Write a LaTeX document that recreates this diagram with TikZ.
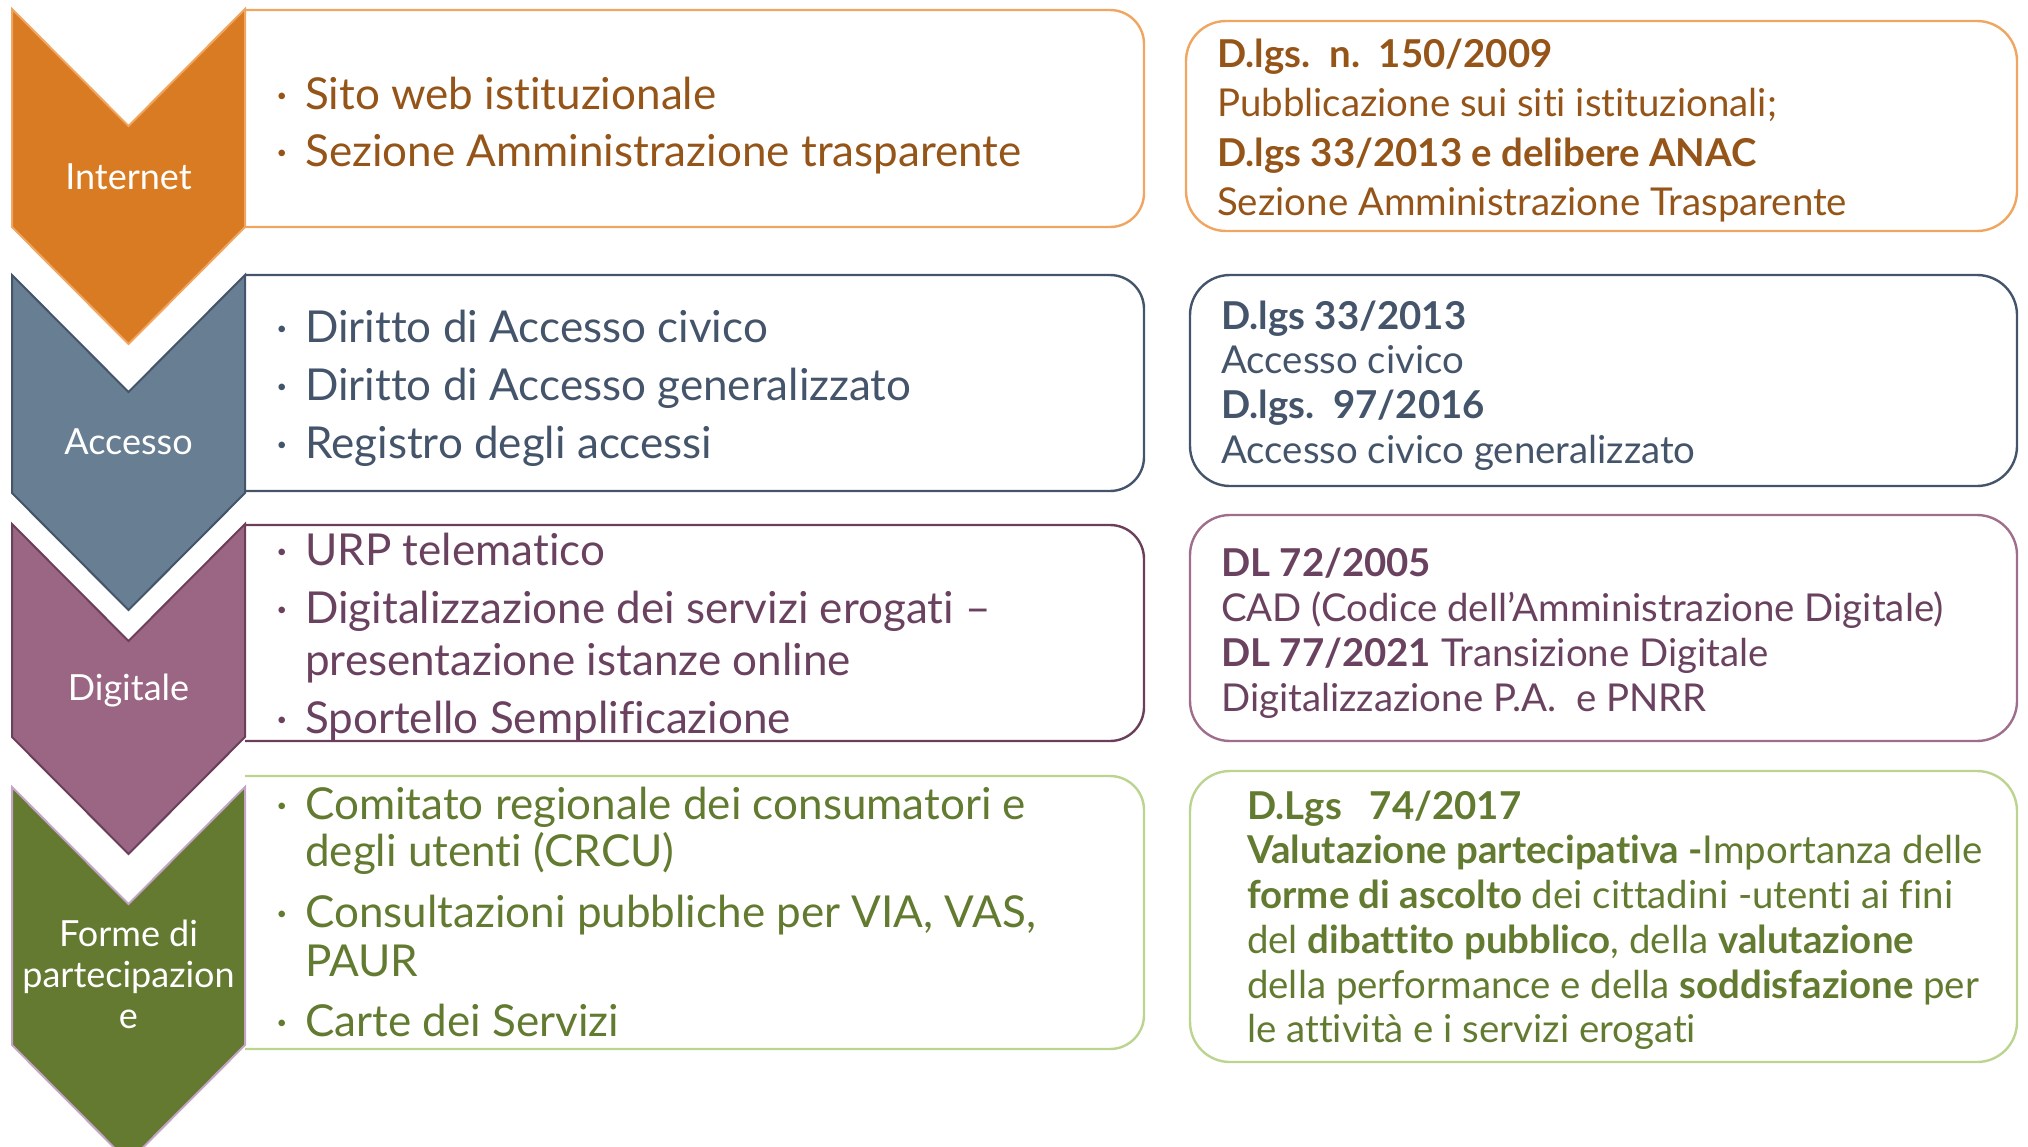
\documentclass[tikz,border=0pt]{standalone}
\usepackage{fontspec}
\setmainfont{Lato}[Ligatures=NoCommon]

\definecolor{orfill}{HTML}{D97B22}
\definecolor{orline}{HTML}{F0A560}
\definecolor{ortext}{HTML}{955519}
\definecolor{slfill}{HTML}{687E92}
\definecolor{slline}{HTML}{44546A}
\definecolor{pufill}{HTML}{9A6683}
\definecolor{puline}{HTML}{6B3F5A}
\definecolor{pulight}{HTML}{9F6E8C}
\definecolor{putext}{HTML}{6A4260}
\definecolor{grfill}{HTML}{647A31}
\definecolor{grchev}{HTML}{C4A4C4}
\definecolor{grline}{HTML}{BBD48F}
\definecolor{grtext}{HTML}{627B30}

\newcommand{\bul}{\makebox[14.5pt][l]{\textperiodcentered}}

\begin{document}
\begin{tikzpicture}[x=0.5pt, y=-0.5pt, line width=1.2pt,
    lbl/.style={text=white, inner sep=0pt, anchor=base, align=center,
                font=\fontsize{18}{20.5}\selectfont},
    item/.style={inner sep=0pt, anchor=base west, font=\fontsize{22}{26}\selectfont},
    law/.style={inner sep=0pt, anchor=base west, font=\fontsize{19.2}{22}\selectfont}]

   \useasboundingbox (0,0) rectangle (2028,1146);
   \clip (0,0) rectangle (2028,1146);

   % middle boxes, square on the left
   \foreach \n/\ya/\yb/\dc in {int/10/227/orline, acc/275/491/slline, dig/525/741/puline, par/776/1049/grline}
     \draw[\dc, rounded corners=17pt] (245,\ya) -- (1144,\ya) -- (1144,\yb) -- (245,\yb);

   % chevrons
   \foreach \n/\ya/\yb/\fc/\dc in {int/9/227/orfill/orline, acc/275/493/slfill/slline, dig/524/737/pufill/puline, par/787/1045/grfill/grchev}
     \filldraw[fill=\fc, draw=\dc, line width=1pt]
        (12,\ya) -- (128.5,\ya+117) -- (245,\ya) -- (245,\yb) -- (128.5,\yb+117) -- (12,\yb) -- cycle;

   \node[lbl] (lint) at (128.5,189) {Internet};
   \node[lbl] (lacc) at (128.5,454) {Accesso};
   \node[lbl] (ldig) at (128.5,700) {Digitale};
   \node[lbl] (lpar) at (128.5,1028) {Forme di\\partecipazion\\e};

   % right boxes
   \foreach \xa/\ya/\yb/\dc in {1186/21/231/orline, 1190/275/486/slline, 1190/515/741/pulight, 1190/771/1062/grline}
     \draw[\dc, rounded corners=20pt] (\xa,\ya) rectangle (2017,\yb);

   % middle texts
   \foreach [count=\i] \y/\t in {109/{\bul Sito web istituzionale}, 166/{\bul Sezione Amministrazione trasparente}}
     \node[item, text=ortext] (mint\i) at (275,\y) {\t};
   \foreach [count=\i] \y/\t in {342/{\bul Diritto di Accesso civico}, 400/{\bul Diritto di Accesso generalizzato}, 458/{\bul Registro degli accessi}}
     \node[item, text=slline] (macc\i) at (275,\y) {\t};
   \foreach [count=\i] \y/\t in {565/{\bul URP telematico}, 623/{\bul Digitalizzazione dei servizi erogati –}, 675/{\hspace{14.5pt}presentazione istanze online}, 733/{\bul Sportello Semplificazione}}
     \node[item, text=putext] (mdig\i) at (275,\y) {\t};
   \foreach [count=\i] \y/\t in {819/{\bul Comitato regionale dei consumatori e}, 866/{\hspace{14.5pt}degli utenti (CRCU)}, 927/{\bul Consultazioni pubbliche per VIA, VAS,}, 976/{\hspace{14.5pt}PAUR}, 1036/{\bul Carte dei Servizi}}
     \node[item, text=grtext] (mpar\i) at (275,\y) {\t};

   % right texts
   \foreach [count=\i] \y/\t in {67/{\textbf{D.lgs.\ \ n.\ \ 150/2009}}, 116/{Pubblicazione sui siti istituzionali;}, 166/{\textbf{D.lgs 33/2013 e delibere ANAC}}, 215/{Sezione Amministrazione Trasparente}}
     \node[law, text=ortext] (rint\i) at (1216,\y) {\t};
   \foreach [count=\i] \y/\t in {329/{\textbf{D.lgs 33/2013}}, 373/{Accesso civico}, 418/{\textbf{D.lgs.\ \ 97/2016}}, 463/{Accesso civico generalizzato}}
     \node[law, text=slline] (racc\i) at (1220,\y) {\t};
   \foreach [count=\i] \y/\t in {576/{\textbf{DL 72/2005}}, 621/{CAD (Codice dell’Amministrazione Digitale)}, 666/{\textbf{DL 77/2021} Transizione Digitale}, 711/{Digitalizzazione P.A.\ \ e PNRR}}
     \node[law, text=putext] (rdig\i) at (1220,\y) {\t};
   \foreach [count=\i] \y/\t in {819/{\textbf{D.Lgs\ \ \ 74/2017}}, 863/{\textbf{Valutazione partecipativa -}Importanza delle}, 908/{\textbf{forme di ascolto} dei cittadini -utenti ai fini}, 953/{del \textbf{dibattito pubblico}, della \textbf{valutazione}}, 998/{della performance e della \textbf{soddisfazione} per}, 1042/{le attività e i servizi erogati}}
     \node[law, text=grtext] (rpar\i) at (1246,\y) {\t};

\end{tikzpicture}
\end{document}
